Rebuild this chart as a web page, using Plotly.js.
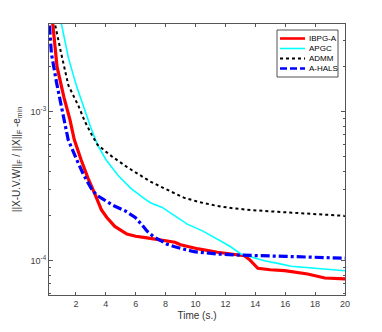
<!DOCTYPE html>
<html>
<head>
<meta charset="utf-8">
<script src="https://cdn.plot.ly/plotly-3.0.1.min.js"></script>
<style>html,body{margin:0;padding:0;background:#fff;}#chart{width:382px;height:332px;}</style>
</head>
<body>
<div id="chart"></div>
<script>
// IBPG-A
const ibpgT = [0.3, 0.45, 0.74, 1.2, 1.6, 1.89, 2.34, 2.8, 3.28, 3.7, 4.07, 4.6, 5.41, 6.0, 6.65, 7.5, 8.62, 9.0, 10.2, 11.47, 12.5, 13.27, 13.6, 13.9, 14.17, 15.0, 15.96, 17.5, 18.2, 18.65, 20];
const ibpgV = [6e-3, 3.9e-3, 2.0e-3, 1.25e-3, 8.85e-4, 6.5e-4, 4.78e-4, 3.6e-4, 2.79e-4, 2.2e-4, 1.95e-4, 1.7e-4, 1.51e-4, 1.46e-4, 1.43e-4, 1.38e-4, 1.33e-4, 1.28e-4, 1.2e-4, 1.14e-4, 1.1e-4, 1.08e-4, 1.02e-4, 9.4e-5, 8.9e-5, 8.7e-5, 8.58e-5, 8.15e-5, 7.9e-5, 7.66e-5, 7.55e-5];
// APGC
const apgcT = [0.9, 1.04, 1.5, 2.05, 2.6, 3.0, 3.45, 4.0, 4.85, 5.7, 6.65, 6.98, 7.77, 8.33, 8.62, 9.45, 10.5, 11.47, 12.3, 13.04, 13.8, 14.6, 15.5, 16.4, 18, 20];
const apgcV = [4.5e-3, 3.88e-3, 2.3e-3, 1.475e-3, 1.0e-3, 7.8e-4, 6.0e-4, 4.78e-4, 3.7e-4, 3.05e-4, 2.58e-4, 2.45e-4, 2.28e-4, 2.1e-4, 2.0e-4, 1.76e-4, 1.58e-4, 1.4e-4, 1.25e-4, 1.11e-4, 1.05e-4, 1.0e-4, 9.6e-5, 9.18e-5, 8.9e-5, 8.57e-5];
// ADMM
const admmT = [0.45, 0.6, 1.0, 1.5, 2.16, 2.6, 3.06, 3.45, 4.0, 4.4, 5.5, 6.65, 6.98, 7.8, 8.62, 9.22, 10.3, 11.47, 12.5, 13.7, 15.5, 17.1, 20];
const admmV = [5e-3, 3.88e-3, 2.5e-3, 1.5e-3, 1.1e-3, 8.6e-4, 7.0e-4, 6.0e-4, 5.4e-4, 5.02e-4, 4.2e-4, 3.6e-4, 3.4e-4, 3.1e-4, 2.83e-4, 2.65e-4, 2.47e-4, 2.33e-4, 2.25e-4, 2.19e-4, 2.13e-4, 2.08e-4, 2.0e-4];
// A-HALS
const ahalsT = [0.15, 0.36, 0.7, 1.21, 1.48, 2.05, 2.5, 3.06, 3.4, 3.84, 4.5, 5.3, 5.97, 6.4, 6.76, 7.2, 7.66, 8.1, 8.62, 9.9, 11.47, 13.0, 16, 20];
const ahalsV = [5e-3, 2.47e-3, 1.58e-3, 8.85e-4, 6.5e-4, 4.78e-4, 3.8e-4, 3.01e-4, 2.75e-4, 2.58e-4, 2.35e-4, 2.16e-4, 1.95e-4, 1.75e-4, 1.58e-4, 1.45e-4, 1.36e-4, 1.29e-4, 1.24e-4, 1.15e-4, 1.11e-4, 1.09e-4, 1.07e-4, 1.04e-4];

const names = ['IBPG-A', 'APGC', 'ADMM', 'A-HALS'];
const xTicks = [2, 4, 6, 8, 10, 12, 14, 16, 18, 20];
const yTickVals = [1e-4, 1e-3];
const yTickText = ['10<sup>-4</sup>', '10<sup>-3</sup>'];
const yMinorVals = [6e-5, 7e-5, 8e-5, 9e-5, 2e-4, 3e-4, 4e-4, 5e-4, 6e-4, 7e-4, 8e-4, 9e-4, 2e-3, 3e-3];

const FAM = 'Liberation Sans, Arial, sans-serif';
const lineStyles = [
  {color: '#ff0000', width: 3.2},
  {color: '#00ffff', width: 1.6},
  {color: '#000000', width: 2, dash: 'dot'},
  {color: '#0000ff', width: 3.2, dash: '9px,3px,3px,3px'}
];
const legendDash = [undefined, undefined, 'dot', '7px,3px'];
const series = [[ibpgT, ibpgV], [apgcT, apgcV], [admmT, admmV], [ahalsT, ahalsV]];

const traces = series.map((s, i) => ({x: s[0], y: s[1], name: names[i], mode: 'lines', line: lineStyles[i], showlegend: false}));

// Compact MATLAB-style legend (box, sample lines, labels) in paper coordinates
const plotL = 49, plotT = 24, plotW = 296, plotH = 271;
const px = v => (v - plotL) / plotW;
const py = v => 1 - (v - plotT) / plotH;
const shapes = [{type: 'rect', xref: 'paper', yref: 'paper', x0: px(277), x1: px(338), y0: py(30), y1: py(77),
  line: {color: '#262626', width: 0.8}, fillcolor: '#fff', layer: 'above'}];
const annotations = [];
names.forEach((n, i) => {
  const yy = 38.5 + i * 10;
  const st = Object.assign({}, lineStyles[i], {width: Math.min(lineStyles[i].width, 2.6), dash: legendDash[i]});
  shapes.push({type: 'line', xref: 'paper', yref: 'paper', x0: px(280), x1: px(305), y0: py(yy), y1: py(yy), line: st, layer: 'above'});
  annotations.push({xref: 'paper', yref: 'paper', x: px(306.5), y: py(yy), xanchor: 'left', yanchor: 'middle', text: n, showarrow: false,
    font: {family: FAM, size: 8, color: '#000'}});
});

const layout = {
  width: 382, height: 332,
  margin: {l: 49, r: 37, t: 24, b: 37},
  paper_bgcolor: '#fff', plot_bgcolor: '#fff',
  font: {family: FAM, size: 9, color: '#404040'},
  showlegend: false,
  shapes: shapes,
  annotations: annotations,
  xaxis: {
    range: [0.2, 20], tickvals: xTicks, ticks: 'inside', ticklen: 3,
    showline: true, linecolor: '#555', linewidth: 1, mirror: 'ticks', tickcolor: '#555',
    showgrid: false, zeroline: false,
    title: {text: 'Time (s.)', font: {family: FAM, size: 10, color: '#333'}, standoff: 4}
  },
  yaxis: {
    type: 'log', range: [-4.23, -2.411],
    tickvals: yTickVals, ticktext: yTickText, ticks: 'inside', ticklen: 4,
    minor: {tickvals: yMinorVals, ticks: 'inside', ticklen: 2, tickcolor: '#555'},
    showline: true, linecolor: '#555', linewidth: 1, mirror: 'ticks', tickcolor: '#555',
    showgrid: false, zeroline: false,
    title: {text: '||X-U.V.W||<sub>F</sub> / ||X||<sub>F</sub> -e<sub>min</sub>', font: {family: FAM, size: 10, color: '#333'}, standoff: 8}
  }
};

Plotly.newPlot('chart', traces, layout, {displayModeBar: false, staticPlot: true});
</script>
</body>
</html>
